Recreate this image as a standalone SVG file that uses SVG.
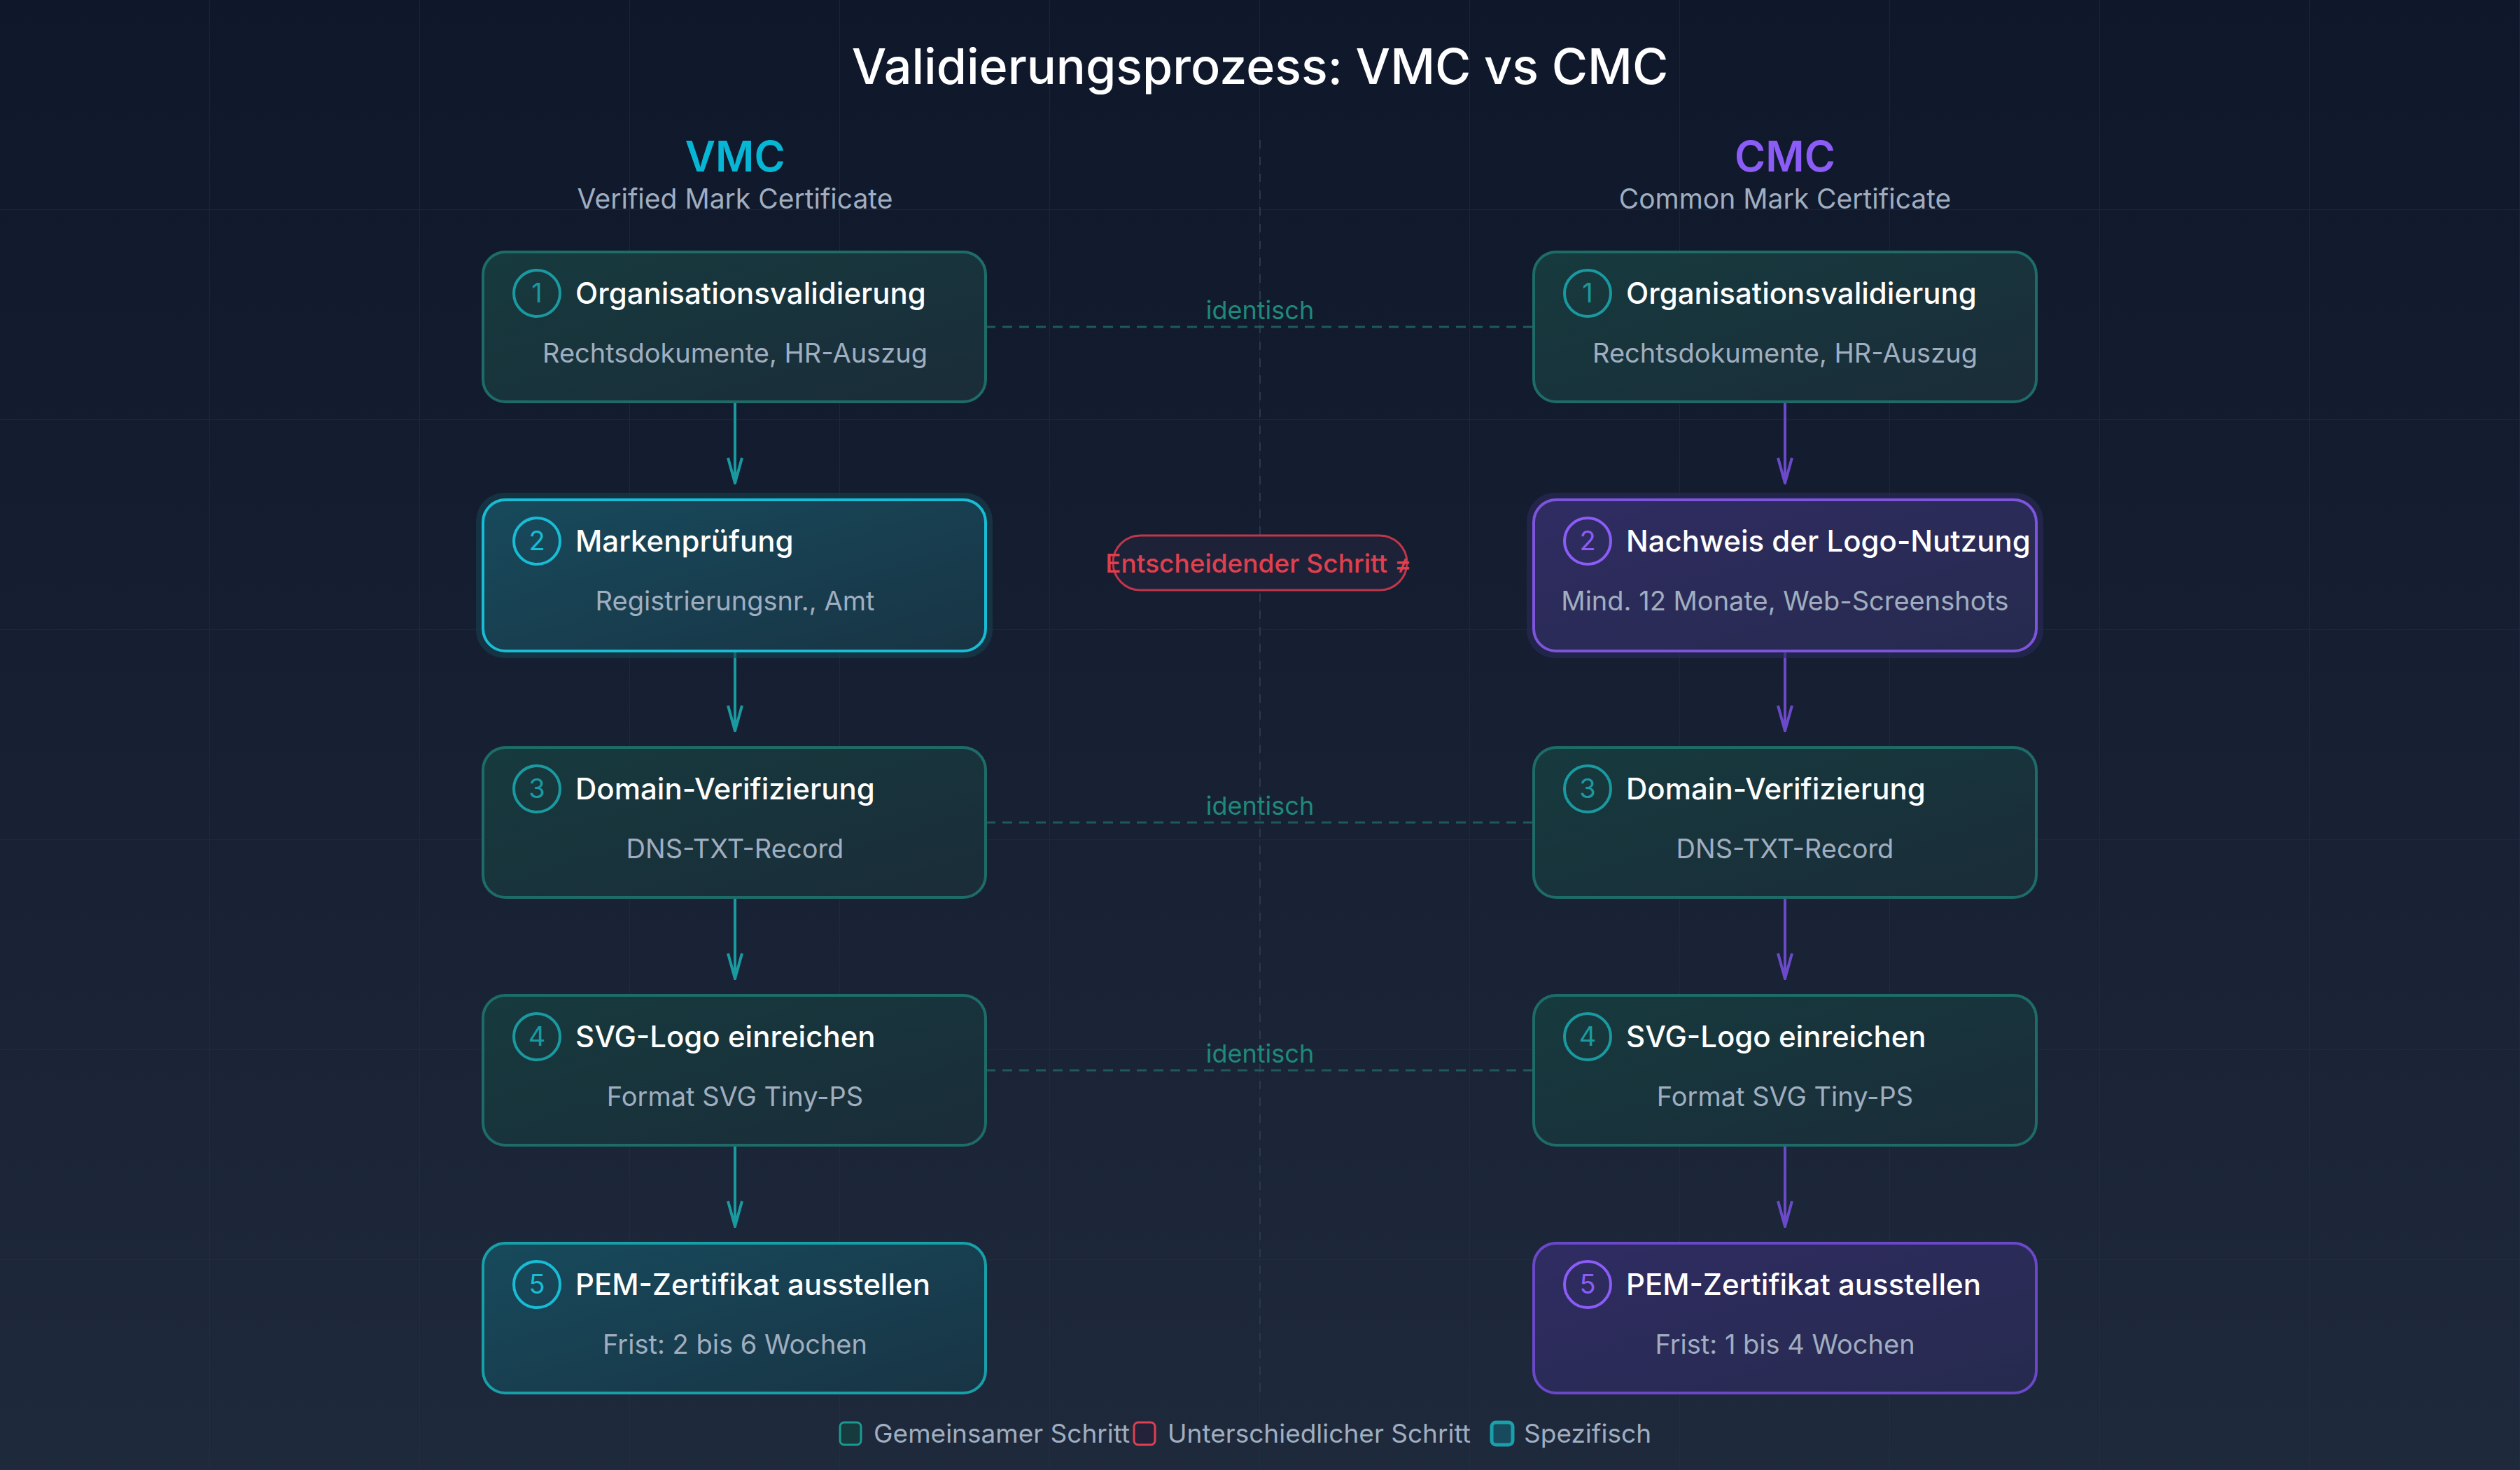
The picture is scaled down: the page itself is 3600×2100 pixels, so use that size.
<svg xmlns="http://www.w3.org/2000/svg" width="3600" height="2100" viewBox="0 0 3600 2100">
<defs>
<linearGradient id="bg" x1="0" y1="0" x2="0" y2="1"><stop offset="0" stop-color="#0f172a"/><stop offset="1" stop-color="#1e293b"/></linearGradient>
<pattern id="grid" width="300" height="300" patternUnits="userSpaceOnUse"><path d="M300 0V300M0 300H300" fill="none" stroke="#253246" stroke-opacity="0.5" stroke-width="2"/></pattern>
<linearGradient id="gT" x1="0" y1="0" x2="1" y2="1"><stop offset="0" stop-color="#163a3e"/><stop offset="1" stop-color="#1a2c38"/></linearGradient>
<linearGradient id="gC" x1="0" y1="0" x2="1" y2="1"><stop offset="0" stop-color="#174a5c"/><stop offset="1" stop-color="#183444"/></linearGradient>
<linearGradient id="gP" x1="0" y1="0" x2="1" y2="1"><stop offset="0" stop-color="#2f2c62"/><stop offset="1" stop-color="#262a4e"/></linearGradient>
<marker id="aT" viewBox="0 0 40 24" refX="38" refY="12" markerWidth="40" markerHeight="24" markerUnits="userSpaceOnUse" orient="auto"><path d="M2 2L38 12L2 22" fill="none" stroke="#1a9aa0" stroke-width="4"/></marker>
<marker id="aP" viewBox="0 0 40 24" refX="38" refY="12" markerWidth="40" markerHeight="24" markerUnits="userSpaceOnUse" orient="auto"><path d="M2 2L38 12L2 22" fill="none" stroke="#6a4ac8" stroke-width="4"/></marker>
</defs>
<style>
text{font-family:Inter,"Noto Sans","Liberation Sans",sans-serif}
.t{fill:#ffffff;font-size:42px;font-weight:500}
.s{fill:#a0aec0;font-size:38px;text-anchor:middle}
.n{font-size:38px;text-anchor:middle}
.box{stroke-width:4}
.id{fill:#1f8a7a;font-size:36px;text-anchor:middle}
.lg{fill:#a0aec0;font-size:37px}
</style>
<rect width="3600" height="2100" fill="url(#bg)"/>
<rect width="3600" height="2100" fill="url(#grid)"/>
<line x1="1800" y1="200" x2="1800" y2="2000" stroke="#2a3850" stroke-width="2" stroke-dasharray="12 12"/>
<text x="1800" y="120" text-anchor="middle" fill="#ffffff" font-size="70" font-weight="500">Validierungsprozess: VMC vs CMC</text>
<text x="1050" y="245" text-anchor="middle" fill="#06b6d4" font-size="60" font-weight="600">VMC</text>
<text x="1050" y="298" class="s" style="font-size:39px">Verified Mark Certificate</text>
<text x="2550" y="245" text-anchor="middle" fill="#8b5cf6" font-size="60" font-weight="600">CMC</text>
<text x="2550" y="298" class="s" style="font-size:39px">Common Mark Certificate</text>
<g id="connectors" fill="none" stroke-width="4">
<g stroke="#1a9aa0" marker-end="url(#aT)"><line x1="1050" y1="574" x2="1050" y2="690"/><line x1="1050" y1="930" x2="1050" y2="1044"/><line x1="1050" y1="1282" x2="1050" y2="1398"/><line x1="1050" y1="1636" x2="1050" y2="1752"/></g>
<g stroke="#6a4ac8" marker-end="url(#aP)"><line x1="2550" y1="574" x2="2550" y2="690"/><line x1="2550" y1="930" x2="2550" y2="1044"/><line x1="2550" y1="1282" x2="2550" y2="1398"/><line x1="2550" y1="1636" x2="2550" y2="1752"/></g>
<g stroke="#1f5a5a" stroke-width="3" stroke-dasharray="14 10"><line x1="1408" y1="467" x2="2192" y2="467"/><line x1="1408" y1="1175" x2="2192" y2="1175"/><line x1="1408" y1="1529" x2="2192" y2="1529"/></g>
<text x="1800" y="456" class="id">identisch</text>
<text x="1800" y="1164" class="id">identisch</text>
<text x="1800" y="1518" class="id">identisch</text>
<rect x="1590" y="765" width="420" height="78" rx="39" fill="#1e2238" stroke="#c0364a" stroke-width="3"/>
<text x="1798" y="818" text-anchor="middle" fill="#e0404e" font-size="37" font-weight="500">Entscheidender Schritt ≠</text>
</g>
<g id="vmc1"><rect class="box" x="690" y="360" width="718" height="214" rx="32" fill="url(#gT)" stroke="#1d6c68"/><circle cx="767" cy="419" r="33" fill="none" stroke="#1a9aa0" stroke-width="4"/><text x="767" y="432" class="n" fill="#1a9aa0">1</text><text x="822" y="434" class="t">Organisationsvalidierung</text><text x="1050" y="518" class="s">Rechtsdokumente, HR-Auszug</text></g>
<g id="vmc2"><rect x="680" y="704" width="738" height="236" rx="40" fill="#16414f" opacity="0.6"/><rect class="box" x="690" y="714" width="718" height="216" rx="32" fill="url(#gC)" stroke="#18bcd4" stroke-width="6"/><circle cx="767" cy="773" r="33" fill="none" stroke="#18bcd4" stroke-width="4"/><text x="767" y="786" class="n" fill="#18bcd4">2</text><text x="822" y="788" class="t">Markenprüfung</text><text x="1050" y="872" class="s">Registrierungsnr., Amt</text></g>
<g id="vmc3"><rect class="box" x="690" y="1068" width="718" height="214" rx="32" fill="url(#gT)" stroke="#1d6c68"/><circle cx="767" cy="1127" r="33" fill="none" stroke="#1a9aa0" stroke-width="4"/><text x="767" y="1140" class="n" fill="#1a9aa0">3</text><text x="822" y="1142" class="t">Domain-Verifizierung</text><text x="1050" y="1226" class="s">DNS-TXT-Record</text></g>
<g id="vmc4"><rect class="box" x="690" y="1422" width="718" height="214" rx="32" fill="url(#gT)" stroke="#1d6c68"/><circle cx="767" cy="1481" r="33" fill="none" stroke="#1a9aa0" stroke-width="4"/><text x="767" y="1494" class="n" fill="#1a9aa0">4</text><text x="822" y="1496" class="t">SVG-Logo einreichen</text><text x="1050" y="1580" class="s">Format SVG Tiny-PS</text></g>
<g id="vmc5"><rect class="box" x="690" y="1776" width="718" height="214" rx="32" fill="url(#gC)" stroke="#17a0a8"/><circle cx="767" cy="1835" r="33" fill="none" stroke="#18bcd4" stroke-width="4"/><text x="767" y="1848" class="n" fill="#18bcd4">5</text><text x="822" y="1850" class="t">PEM-Zertifikat ausstellen</text><text x="1050" y="1934" class="s">Frist: 2 bis 6 Wochen</text></g>
<g id="cmc1"><rect class="box" x="2191" y="360" width="718" height="214" rx="32" fill="url(#gT)" stroke="#1d6c68"/><circle cx="2268" cy="419" r="33" fill="none" stroke="#1a9aa0" stroke-width="4"/><text x="2268" y="432" class="n" fill="#1a9aa0">1</text><text x="2323" y="434" class="t">Organisationsvalidierung</text><text x="2550" y="518" class="s">Rechtsdokumente, HR-Auszug</text></g>
<g id="cmc2"><rect x="2181" y="704" width="738" height="236" rx="40" fill="#2c2a5a" opacity="0.6"/><rect class="box" x="2191" y="714" width="718" height="216" rx="32" fill="url(#gP)" stroke="#7c55dc" stroke-width="6"/><circle cx="2268" cy="773" r="33" fill="none" stroke="#8b5cf6" stroke-width="4"/><text x="2268" y="786" class="n" fill="#8b5cf6">2</text><text x="2323" y="788" class="t">Nachweis der Logo-Nutzung</text><text x="2550" y="872" class="s">Mind. 12 Monate, Web-Screenshots</text></g>
<g id="cmc3"><rect class="box" x="2191" y="1068" width="718" height="214" rx="32" fill="url(#gT)" stroke="#1d6c68"/><circle cx="2268" cy="1127" r="33" fill="none" stroke="#1a9aa0" stroke-width="4"/><text x="2268" y="1140" class="n" fill="#1a9aa0">3</text><text x="2323" y="1142" class="t">Domain-Verifizierung</text><text x="2550" y="1226" class="s">DNS-TXT-Record</text></g>
<g id="cmc4"><rect class="box" x="2191" y="1422" width="718" height="214" rx="32" fill="url(#gT)" stroke="#1d6c68"/><circle cx="2268" cy="1481" r="33" fill="none" stroke="#1a9aa0" stroke-width="4"/><text x="2268" y="1494" class="n" fill="#1a9aa0">4</text><text x="2323" y="1496" class="t">SVG-Logo einreichen</text><text x="2550" y="1580" class="s">Format SVG Tiny-PS</text></g>
<g id="cmc5"><rect class="box" x="2191" y="1776" width="718" height="214" rx="32" fill="url(#gP)" stroke="#6a48c8"/><circle cx="2268" cy="1835" r="33" fill="none" stroke="#8b5cf6" stroke-width="4"/><text x="2268" y="1848" class="n" fill="#8b5cf6">5</text><text x="2323" y="1850" class="t">PEM-Zertifikat ausstellen</text><text x="2550" y="1934" class="s">Frist: 1 bis 4 Wochen</text></g>
<g id="legend">
<rect x="1200" y="2032" width="30" height="32" rx="6" fill="#173a3e" stroke="#1a9a90" stroke-width="3"/><text x="1248" y="2061" class="lg">Gemeinsamer Schritt</text>
<rect x="1620" y="2032" width="30" height="32" rx="6" fill="#23223a" stroke="#e04050" stroke-width="3"/><text x="1668" y="2061" class="lg">Unterschiedlicher Schritt</text>
<rect x="2131" y="2032" width="30" height="32" rx="6" fill="#174a5c" stroke="#1aa0aa" stroke-width="5"/><text x="2177" y="2061" class="lg">Spezifisch</text>
</g>
</svg>
